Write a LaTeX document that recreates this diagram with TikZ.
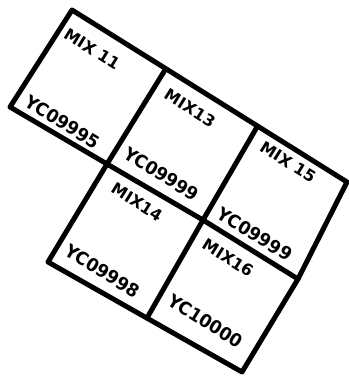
\documentclass[tikz,border=0pt]{standalone}
\usepackage{fontspec}
\setmainfont{DejaVu Sans}
\begin{document}
\begin{tikzpicture}[x=1pt,y=-1pt,
  gridline/.style={line width=5pt, line cap=round, line join=round, black},
  lbl/.style={font=\bfseries\fontsize{16}{16}\selectfont, rotate=-32, inner sep=0pt},
  code/.style={lbl, font=\bfseries\fontsize{18}{18}\selectfont, xscale=0.95}]
\useasboundingbox[fill=white] (0,0) rectangle (348,377);
% grid vertices
\coordinate (A0) at (72,10);
\coordinate (A1) at (165,70);
\coordinate (A2) at (257,127);
\coordinate (A3) at (347,182);
\coordinate (B0) at (10,107);
\coordinate (B1) at (107,164);
\coordinate (B2) at (203,220);
\coordinate (B3) at (298,279);
\coordinate (C1) at (48,262);
\coordinate (C2) at (147,318);
\coordinate (C3) at (242,372);
% outline
\draw[gridline] (A0) -- (A3) -- (B3) -- (C3) -- (C1) -- (B1) -- (B0) -- cycle;
% inner lines
\draw[gridline] (A1) -- (B1);
\draw[gridline] (A2) -- (B2) -- (C2);
\draw[gridline] (B1) -- (B2) -- (B3);
% labels
\node[lbl] (m11) at (92,49) {MIX 11};
\node[code] (y11) at (63,122) {YC09995};
\node[lbl] (m13) at (190,108) {MIX13};
\node[code] (y13) at (162,174) {YC09999};
\node[lbl] (m15) at (288,162) {MIX 15};
\node[code] (y15) at (255,234) {YC09999};
\node[lbl] (m14) at (137,202) {MIX14};
\node[code] (y14) at (103,271) {YC09998};
\node[lbl] (m16) at (228,258) {MIX16};
\node[code] (y16) at (206,321) {YC10000};
\end{tikzpicture}
\end{document}
